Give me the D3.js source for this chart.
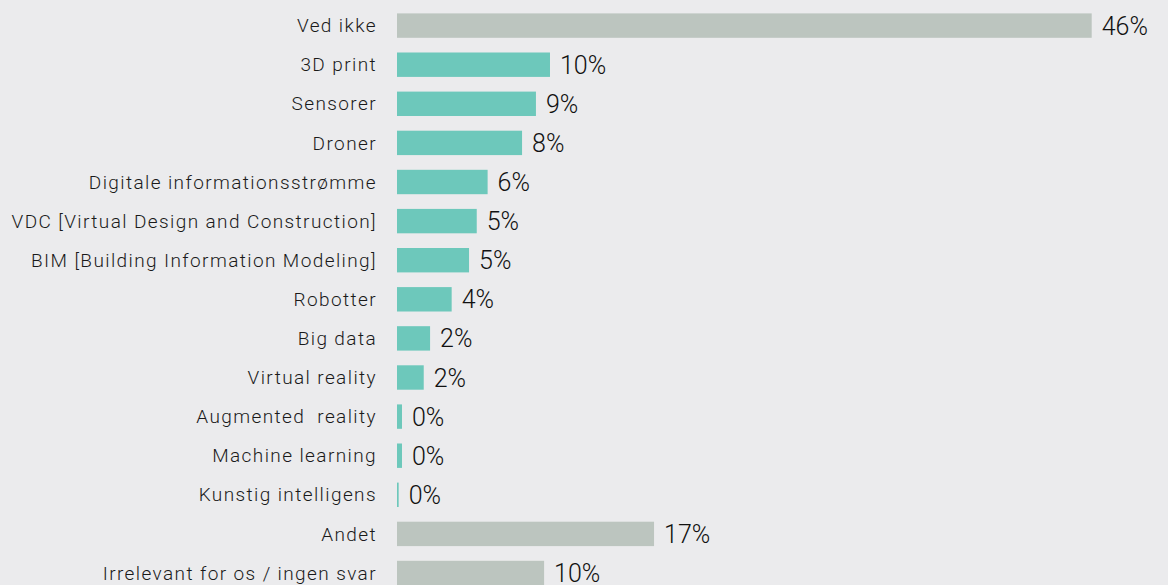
<!DOCTYPE html>
<html>
<head>
<meta charset="utf-8">
<script src="https://cdn.jsdelivr.net/npm/d3@7"></script>
<style>
  html, body { margin: 0; padding: 0; background: #ebebed; }
  svg { display: block; }
</style>
</head>
<body>
<svg id="chart" width="1168" height="585"></svg>
<script>
const categories = [
  "Ved ikke",
  "3D print",
  "Sensorer",
  "Droner",
  "Digitale informationsstrømme",
  "VDC [Virtual Design and Construction]",
  "BIM [Building Information Modeling]",
  "Robotter",
  "Big data",
  "Virtual reality",
  "Augmented  reality",
  "Machine learning",
  "Kunstig intelligens",
  "Andet",
  "Irrelevant for os / ingen svar"
];
const values = [46.0, 10.13, 9.2, 8.28, 6.0, 5.28, 4.77, 3.62, 2.19, 1.77, 0.33, 0.33, 0.11, 17.02, 9.74];
const groups = ["other", "tech", "tech", "tech", "tech", "tech", "tech", "tech", "tech", "tech", "tech", "tech", "tech", "other", "other"];
const colors = { tech: "#6dc8bb", other: "#bcc5bf" };

const svg = d3.select("#chart");
const x = d3.scaleLinear().domain([0, 46]).range([397, 1091.7]);
const y = d3.scaleBand().domain(categories).range([13.4, 585.2]).paddingInner(0.376).paddingOuter(0);

const data = categories.map((c, i) => ({ c, v: values[i], g: groups[i] }));

svg.selectAll("rect.bar").data(data).enter().append("rect")
  .attr("class", "bar")
  .attr("x", x(0))
  .attr("y", d => y(d.c))
  .attr("width", d => x(d.v) - x(0))
  .attr("height", y.bandwidth())
  .attr("fill", d => colors[d.g]);

svg.selectAll("text.cat").data(data).enter().append("text")
  .attr("class", "cat")
  .attr("x", 377)
  .attr("y", d => y(d.c) + y.bandwidth() / 2)
  .attr("dy", "0.35em")
  .attr("text-anchor", "end")
  .attr("font-family", "Roboto, sans-serif")
  .attr("font-size", 19)
  .attr("font-weight", 300)
  .attr("letter-spacing", 1.4)
  .attr("fill", "#1a1a1a")
  .style("white-space", "pre")
  .text(d => d.c);

const fmt = d3.format(".0f");
svg.selectAll("text.val").data(data).enter().append("text")
  .attr("class", "val")
  .attr("x", d => x(d.v) + 10)
  .attr("y", d => y(d.c) + y.bandwidth() / 2)
  .attr("dy", "0.36em")
  .attr("font-family", "Roboto, sans-serif")
  .attr("font-size", 25)
  .attr("font-weight", 300)
  .attr("fill", "#111")
  .text(d => fmt(d.v) + "%");
</script>
</body>
</html>
